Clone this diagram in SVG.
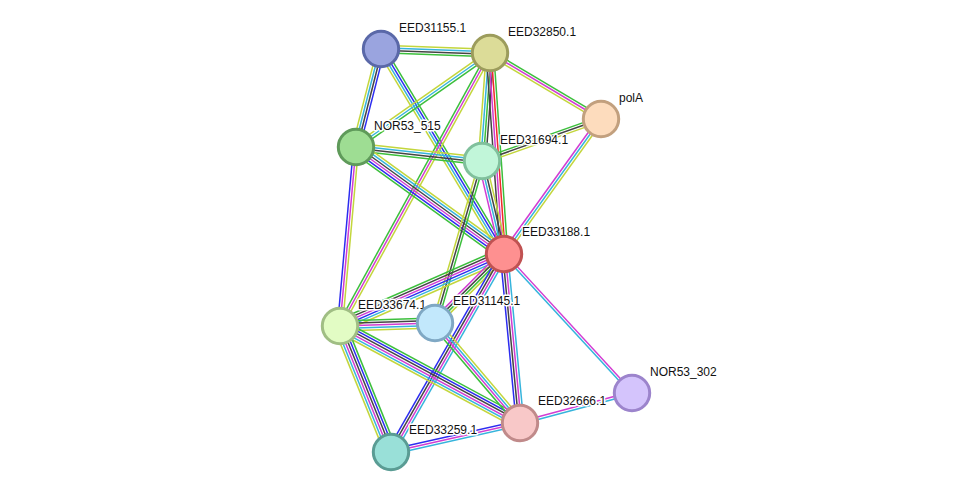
<svg xmlns="http://www.w3.org/2000/svg" width="976" height="497" viewBox="0 0 976 497">
<style>
.edges line{vector-effect:non-scaling-stroke;stroke-width:1.5;fill:none}
.g{stroke:#3cbf3c}.y{stroke:#c3d63c}.c{stroke:#36b4dc}.k{stroke:#444444}.m{stroke:#d23cd2}.b{stroke:#2c2cf0}.r{stroke:#f02a2a}
.node circle{stroke-width:3}
.node text{font-family:"Liberation Sans",Arial,sans-serif;font-size:12px;fill:#111;stroke:#fff;stroke-width:3;paint-order:stroke;stroke-linejoin:round}
</style>
<rect width="976" height="497" fill="#fff"/>
<g id="connectors" class="edges">
<g transform="matrix(109 4 -0.0367 0.9993 381 49)"><line x1="0" y1="-3.75" x2="1" y2="-3.75" class="y"/><line x1="0" y1="-1.25" x2="1" y2="-1.25" class="c"/><line x1="0" y1="1.25" x2="1" y2="1.25" class="k"/><line x1="0" y1="3.75" x2="1" y2="3.75" class="g"/></g>
<g transform="matrix(-25 98 -0.969 -0.247 381 49)"><line x1="0" y1="-3.75" x2="1" y2="-3.75" class="b"/><line x1="0" y1="-1.25" x2="1" y2="-1.25" class="k"/><line x1="0" y1="1.25" x2="1" y2="1.25" class="c"/><line x1="0" y1="3.75" x2="1" y2="3.75" class="y"/></g>
<g transform="matrix(123 205 -0.8575 0.5145 381 49)"><line x1="0" y1="-3.75" x2="1" y2="-3.75" class="g"/><line x1="0" y1="-1.25" x2="1" y2="-1.25" class="b"/><line x1="0" y1="1.25" x2="1" y2="1.25" class="c"/><line x1="0" y1="3.75" x2="1" y2="3.75" class="y"/></g>
<g transform="matrix(-134 94 -0.5743 -0.8187 490 53)"><line x1="0" y1="-2.5" x2="1" y2="-2.5" class="g"/><line x1="0" y1="0" x2="1" y2="0" class="c"/><line x1="0" y1="2.5" x2="1" y2="2.5" class="y"/></g>
<g transform="matrix(-8 108 -0.9972 -0.0739 490 53)"><line x1="0" y1="-3.75" x2="1" y2="-3.75" class="k"/><line x1="0" y1="-1.25" x2="1" y2="-1.25" class="g"/><line x1="0" y1="1.25" x2="1" y2="1.25" class="c"/><line x1="0" y1="3.75" x2="1" y2="3.75" class="y"/></g>
<g transform="matrix(14 201 -0.9976 0.0695 490 53)"><line x1="0" y1="-3.75" x2="1" y2="-3.75" class="g"/><line x1="0" y1="-1.25" x2="1" y2="-1.25" class="r"/><line x1="0" y1="1.25" x2="1" y2="1.25" class="m"/><line x1="0" y1="3.75" x2="1" y2="3.75" class="k"/></g>
<g transform="matrix(-150 273 -0.8764 -0.4816 490 53)"><line x1="0" y1="-2.5" x2="1" y2="-2.5" class="y"/><line x1="0" y1="0" x2="1" y2="0" class="m"/><line x1="0" y1="2.5" x2="1" y2="2.5" class="g"/></g>
<g transform="matrix(111 66 -0.5111 0.8595 490 53)"><line x1="0" y1="-2.5" x2="1" y2="-2.5" class="g"/><line x1="0" y1="0" x2="1" y2="0" class="m"/><line x1="0" y1="2.5" x2="1" y2="2.5" class="y"/></g>
<g transform="matrix(-119 42 -0.3328 -0.9430 601 119)"><line x1="0" y1="-2.5" x2="1" y2="-2.5" class="y"/><line x1="0" y1="0" x2="1" y2="0" class="k"/><line x1="0" y1="2.5" x2="1" y2="2.5" class="g"/></g>
<g transform="matrix(-97 135 -0.8121 -0.5835 601 119)"><line x1="0" y1="-2.5" x2="1" y2="-2.5" class="y"/><line x1="0" y1="0" x2="1" y2="0" class="c"/><line x1="0" y1="2.5" x2="1" y2="2.5" class="m"/></g>
<g transform="matrix(126 14 -0.1104 0.9939 356 147)"><line x1="0" y1="-3.75" x2="1" y2="-3.75" class="y"/><line x1="0" y1="-1.25" x2="1" y2="-1.25" class="c"/><line x1="0" y1="1.25" x2="1" y2="1.25" class="k"/><line x1="0" y1="3.75" x2="1" y2="3.75" class="g"/></g>
<g transform="matrix(148 107 -0.5859 0.8104 356 147)"><line x1="0" y1="-6.25" x2="1" y2="-6.25" class="y"/><line x1="0" y1="-3.75" x2="1" y2="-3.75" class="c"/><line x1="0" y1="-1.25" x2="1" y2="-1.25" class="k"/><line x1="0" y1="1.25" x2="1" y2="1.25" class="m"/><line x1="0" y1="3.75" x2="1" y2="3.75" class="b"/><line x1="0" y1="6.25" x2="1" y2="6.25" class="g"/></g>
<g transform="matrix(-16 179 -0.9960 -0.0890 356 147)"><line x1="0" y1="-2.5" x2="1" y2="-2.5" class="y"/><line x1="0" y1="0" x2="1" y2="0" class="m"/><line x1="0" y1="2.5" x2="1" y2="2.5" class="b"/></g>
<g transform="matrix(22 93 -0.9731 0.2302 482 161)"><line x1="0" y1="-3.75" x2="1" y2="-3.75" class="y"/><line x1="0" y1="-1.25" x2="1" y2="-1.25" class="k"/><line x1="0" y1="1.25" x2="1" y2="1.25" class="c"/><line x1="0" y1="3.75" x2="1" y2="3.75" class="m"/></g>
<g transform="matrix(-47 162 -0.9604 -0.2786 482 161)"><line x1="0" y1="-2.5" x2="1" y2="-2.5" class="g"/><line x1="0" y1="0" x2="1" y2="0" class="k"/><line x1="0" y1="2.5" x2="1" y2="2.5" class="y"/></g>
<g transform="matrix(-164 72 -0.4020 -0.9156 504 254)"><line x1="0" y1="-6.25" x2="1" y2="-6.25" class="y"/><line x1="0" y1="-3.75" x2="1" y2="-3.75" class="c"/><line x1="0" y1="-1.25" x2="1" y2="-1.25" class="b"/><line x1="0" y1="1.25" x2="1" y2="1.25" class="m"/><line x1="0" y1="3.75" x2="1" y2="3.75" class="k"/><line x1="0" y1="6.25" x2="1" y2="6.25" class="g"/></g>
<g transform="matrix(-69 69 -0.7071 -0.7071 504 254)"><line x1="0" y1="-3.75" x2="1" y2="-3.75" class="y"/><line x1="0" y1="-1.25" x2="1" y2="-1.25" class="g"/><line x1="0" y1="1.25" x2="1" y2="1.25" class="k"/><line x1="0" y1="3.75" x2="1" y2="3.75" class="m"/></g>
<g transform="matrix(95 -3 0.0316 0.9995 340 326)"><line x1="0" y1="-5" x2="1" y2="-5" class="g"/><line x1="0" y1="-2.5" x2="1" y2="-2.5" class="k"/><line x1="0" y1="0" x2="1" y2="0" class="m"/><line x1="0" y1="2.5" x2="1" y2="2.5" class="c"/><line x1="0" y1="5" x2="1" y2="5" class="y"/></g>
<g transform="matrix(16 169 -0.9955 0.0943 504 254)"><line x1="0" y1="-3.75" x2="1" y2="-3.75" class="c"/><line x1="0" y1="-1.25" x2="1" y2="-1.25" class="m"/><line x1="0" y1="1.25" x2="1" y2="1.25" class="k"/><line x1="0" y1="3.75" x2="1" y2="3.75" class="b"/></g>
<g transform="matrix(-113 198 -0.8685 -0.4957 504 254)"><line x1="0" y1="-3.75" x2="1" y2="-3.75" class="c"/><line x1="0" y1="-1.25" x2="1" y2="-1.25" class="m"/><line x1="0" y1="1.25" x2="1" y2="1.25" class="k"/><line x1="0" y1="3.75" x2="1" y2="3.75" class="b"/></g>
<g transform="matrix(128 139 -0.7356 0.6774 504 254)"><line x1="0" y1="-1.25" x2="1" y2="-1.25" class="m"/><line x1="0" y1="1.25" x2="1" y2="1.25" class="c"/></g>
<g transform="matrix(180 97 -0.4744 0.8803 340 326)"><line x1="0" y1="-6.25" x2="1" y2="-6.25" class="g"/><line x1="0" y1="-3.75" x2="1" y2="-3.75" class="b"/><line x1="0" y1="-1.25" x2="1" y2="-1.25" class="k"/><line x1="0" y1="1.25" x2="1" y2="1.25" class="m"/><line x1="0" y1="3.75" x2="1" y2="3.75" class="c"/><line x1="0" y1="6.25" x2="1" y2="6.25" class="y"/></g>
<g transform="matrix(51 126 -0.9270 0.3752 340 326)"><line x1="0" y1="-6.25" x2="1" y2="-6.25" class="g"/><line x1="0" y1="-3.75" x2="1" y2="-3.75" class="b"/><line x1="0" y1="-1.25" x2="1" y2="-1.25" class="k"/><line x1="0" y1="1.25" x2="1" y2="1.25" class="m"/><line x1="0" y1="3.75" x2="1" y2="3.75" class="c"/><line x1="0" y1="6.25" x2="1" y2="6.25" class="y"/></g>
<g transform="matrix(85 100 -0.7620 0.6477 435 323)"><line x1="0" y1="-3.75" x2="1" y2="-3.75" class="y"/><line x1="0" y1="-1.25" x2="1" y2="-1.25" class="c"/><line x1="0" y1="1.25" x2="1" y2="1.25" class="m"/><line x1="0" y1="3.75" x2="1" y2="3.75" class="g"/></g>
<g transform="matrix(-129 29 -0.2193 -0.9756 520 423)"><line x1="0" y1="-2.5" x2="1" y2="-2.5" class="c"/><line x1="0" y1="0" x2="1" y2="0" class="m"/><line x1="0" y1="2.5" x2="1" y2="2.5" class="b"/></g>
<g transform="matrix(112 -30 0.2587 0.9659 520 423)"><line x1="0" y1="-1.25" x2="1" y2="-1.25" class="m"/><line x1="0" y1="1.25" x2="1" y2="1.25" class="c"/></g>
</g>
<g id="EED31155.1" class="node"><circle cx="381" cy="49" r="17.7" fill="#9aa4df" stroke="#5a68a8"/><text x="399" y="32">EED31155.1</text></g>
<g id="EED32850.1" class="node"><circle cx="490" cy="53" r="17.7" fill="#dcdc98" stroke="#9c9c5c"/><text x="508" y="36">EED32850.1</text></g>
<g id="polA" class="node"><circle cx="601" cy="119" r="17.7" fill="#fddcbd" stroke="#c2a07e"/><text x="619" y="102">polA</text></g>
<g id="NOR53_515" class="node"><circle cx="356" cy="147" r="17.7" fill="#9edd93" stroke="#5f9a5a"/><text x="374" y="130">NOR53_515</text></g>
<g id="EED31694.1" class="node"><circle cx="482" cy="161" r="17.7" fill="#c1f6d9" stroke="#80c09c"/><text x="500" y="144">EED31694.1</text></g>
<g id="EED33188.1" class="node"><circle cx="504" cy="254" r="17.7" fill="#fe9090" stroke="#c05252"/><text x="522" y="236">EED33188.1</text></g>
<g id="EED33674.1" class="node"><circle cx="340" cy="326" r="17.7" fill="#e2fcc4" stroke="#a0be84"/><text x="358" y="309">EED33674.1</text></g>
<g id="EED31145.1" class="node"><circle cx="435" cy="323" r="17.7" fill="#c2e8fc" stroke="#7fa8c4"/><text x="453" y="305">EED31145.1</text></g>
<g id="NOR53_302" class="node"><circle cx="632" cy="393" r="17.7" fill="#d4c4fc" stroke="#9c84cc"/><text x="650" y="376">NOR53_302</text></g>
<g id="EED32666.1" class="node"><circle cx="520" cy="423" r="17.7" fill="#f8c8c8" stroke="#c08a8a"/><text x="538" y="405">EED32666.1</text></g>
<g id="EED33259.1" class="node"><circle cx="391" cy="452" r="17.7" fill="#99e0d8" stroke="#5a9c94"/><text x="409" y="434">EED33259.1</text></g>
</svg>
